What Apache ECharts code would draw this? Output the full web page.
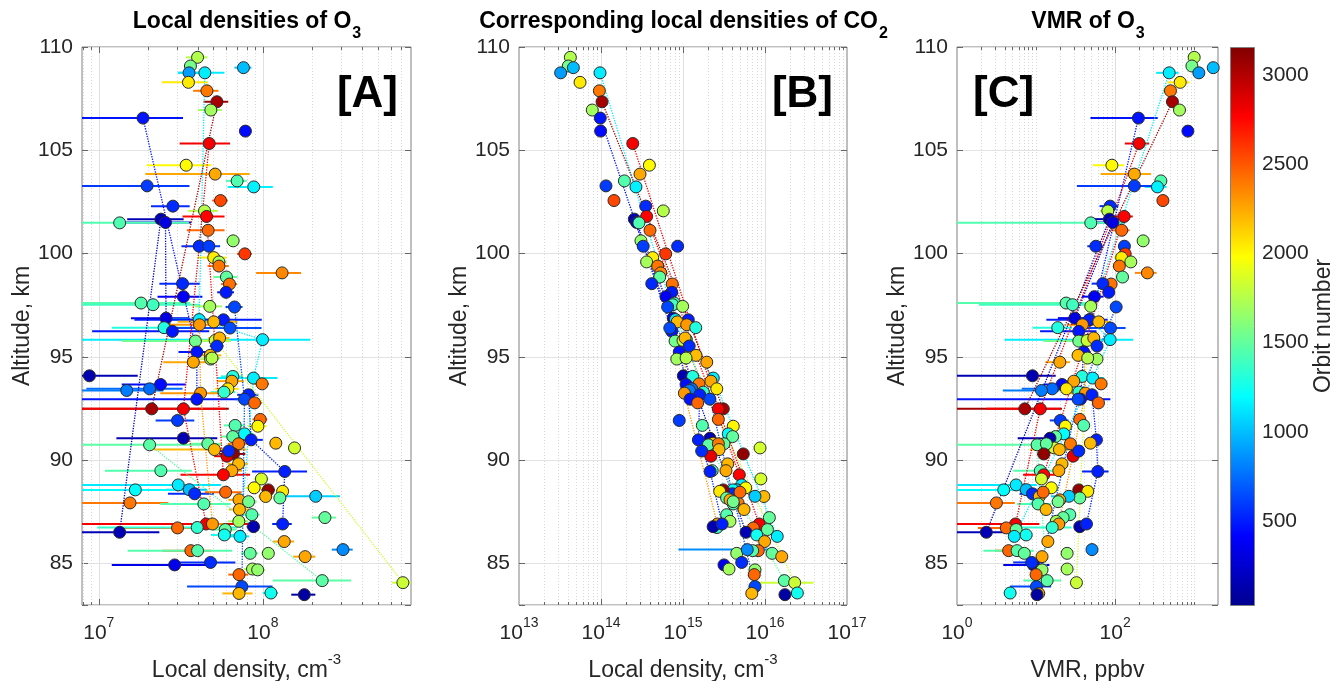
<!DOCTYPE html>
<html>
<head>
<meta charset="utf-8">
<title>Local densities of O3 and CO2, VMR of O3</title>
<script src="https://cdn.jsdelivr.net/npm/echarts@6/dist/echarts.min.js"></script>
<style>
  html, body { margin: 0; padding: 0; background: #fff; }
  #chart { width: 1340px; height: 681px; }
</style>
</head>
<body>
<div id="chart"></div>
<script>
// one entry per measurement: altitude (km), orbit number, O3 density + error, CO2 density, O3 VMR
const altitude = [
  109.5, 109.08, 108.75, 108.75, 109.0, 108.29, 107.88, 107.35, 106.95, 106.56,
  105.93, 105.33, 104.28, 103.85, 103.52, 103.23, 103.28, 102.57, 102.3, 102.07,
  101.8, 101.67, 101.51, 101.49, 101.13, 100.62, 100.36, 100.36, 99.99, 99.81,
  99.6, 99.4, 99.07, 98.87, 98.53, 98.55, 98.13, 97.92, 97.61, 97.53,
  97.45, 97.42, 96.88, 96.81, 96.8, 96.7, 96.56, 96.42, 96.24, 96.4,
  95.84, 95.77, 95.8, 95.92, 95.53, 95.24, 95.08, 94.9, 94.95, 94.75,
  94.09, 94.06, 93.98, 93.7, 93.83, 93.67, 93.46, 93.38, 93.46, 93.3,
  93.25, 93.17, 92.96, 92.96, 92.78, 92.49, 92.49, 91.93, 91.98, 91.65,
  91.69, 91.28, 91.15, 91.07, 90.99, 90.83, 90.6, 90.75, 90.8, 90.8,
  90.52, 90.31, 90.2, 90.45, 89.83, 89.5, 89.5, 89.46, 89.3, 89.1,
  88.81, 88.58, 88.57, 88.38, 88.67, 88.57, 88.5, 88.25, 88.18, 88.26,
  87.94, 87.89, 88.46, 88.09, 88.0, 87.62, 87.37, 87.23, 87.05, 86.92,
  86.92, 86.73, 86.75, 86.79, 86.92, 86.52, 86.65, 86.39, 86.32, 86.07,
  85.63, 85.63, 85.5, 85.5, 85.34, 85.68, 84.94, 85.06, 84.74, 84.7,
  84.47, 84.18, 84.08, 83.89, 83.58, 83.56, 83.5
];

const orbitNo = [
  1750, 1560, 900, 1150, 1000, 2050, 2400, 3040, 1700, 480,
  450, 2800, 2000, 2250, 1450, 1160, 600, 2550, 550, 1760,
  2760, 170, 320, 1440, 2450, 1650, 555, 610, 2600, 2040,
  1710, 2410, 2350, 1500, 2420, 545, 500, 400, 1455, 1400,
  1705, 640, 320, 1150, 505, 2200, 2300, 1300, 495, 650,
  1150, 1550, 1820, 2210, 551, 480, 2190, 1690, 1755, 2255,
  150, 1305, 1150, 2405, 2260, 455, 750, 800, 2055, 1350,
  2300, 520, 480, 640, 2455, 3040, 2800, 605, 2451, 2005,
  1451, 1200, 1501, 152, 520, 2201, 1850, 1480, 1502, 2401,
  2202, 3100, 2850, 552, 2203, 2251, 1452, 520, 2760, 1851,
  1140, 1001, 1201, 553, 2001, 3101, 2051, 2204, 1503, 1050,
  2402, 1453, 2452, 2252, 1551, 2205, 1454, 1504, 1701, 2800,
  2300, 2453, 1351, 151, 520, 170, 1505, 1250, 1150, 2253,
  2454, 1456, 1506, 1651, 2254, 850, 350, 554, 1702, 1652,
  2456, 1480, 1820, 640, 1251, 2206, 100
];

const o3Density = [
  4.0e7, 3.62e7, 3.55e7, 4.43e7, 7.62e7, 3.52e7, 4.56e7, 5.25e7, 4.82e7, 1.86e7,
  7.83e7, 4.71e7, 3.41e7, 5.12e7, 6.97e7, 8.8e7, 1.97e7, 5.52e7, 2.83e7, 4.41e7,
  4.54e7, 2.39e7, 2.55e7, 1.34e7, 4.64e7, 6.59e7, 4.09e7, 4.69e7, 7.77e7, 5.02e7,
  5.4e7, 5.4e7, 1.31e8, 6.0e7, 6.26e7, 3.24e7, 5.97e7, 3.28e7, 1.81e7, 2.14e7,
  4.75e7, 6.72e7, 2.57e7, 4.09e7, 5.75e7, 5.02e7, 4.11e7, 2.5e7, 2.81e7, 6.31e7,
  9.96e7, 3.88e7, 5.12e7, 5.45e7, 5.25e7, 3.96e7, 4.78e7, 4.8e7, 4.9e7, 3.77e7,
  8.77e6, 6.56e7, 8.77e7, 9.9e7, 6.47e7, 2.38e7, 2.04e7, 1.48e7, 6.12e7, 5.8e7,
  4.17e7, 8.18e7, 3.96e7, 7.73e7, 8.9e7, 2.1e7, 3.28e7, 3.02e7, 9.64e7, 9.33e7,
  6.78e7, 7.73e7, 6.56e7, 3.28e7, 8.49e7, 1.2e8, 1.56e8, 2.04e7, 4.62e7, 7.11e7,
  5.07e7, 6.62e7, 6.05e7, 6.2e7, 7.11e7, 6.47e7, 2.39e7, 1.36e8, 5.75e7, 9.8e7,
  3.05e7, 3.56e7, 1.67e7, 3.84e7, 8.85e7, 1.08e8, 1.32e8, 1.04e8, 1.27e8, 2.1e8,
  1.55e7, 4.37e7, 5.93e7, 7.16e7, 8.18e7, 7.2e7, 8.57e7, 2.39e8, 7.14e7, 4.51e7,
  4.93e7, 3.02e7, 3.98e7, 8.77e7, 1.32e8, 1.34e7, 5.9e7, 5.83e7, 7.26e7, 1.35e8,
  3.64e7, 4.0e7, 8.37e7, 1.08e8, 1.81e8, 3.08e8, 2.9e7, 4.8e7, 8.65e7, 9.3e7,
  7.16e7, 2.3e8, 7.14e8, 7.45e7, 1.12e8, 7.16e7, 1.79e8
];

const o3Error = [
  0.6e7, 0.3e7, 0.5e7, 1.4e7, 0.9e7, 1.1e7, 0.8e7, 0.9e7, 0.8e7, 1.4e7,
  0.5e7, 1.6e7, 1.45e7, 3.2e7, 1.0e7, 2.7e7, 1.6e7, 0.6e7, 0.75e7, 0.9e7,
  1.3e7, 0.9e7, 1.1e7, 2.2e7, 1.2e7, 0.6e7, 0.9e7, 0.8e7, 0.8e7, 1.0e7,
  0.6e7, 0.8e7, 4.0e7, 1.0e7, 0.7e7, 0.9e7, 0.7e7, 1.0e7, 1.8e7, 2.0e7,
  0.9e7, 0.8e7, 1.0e7, 1.5e7, 4.1e7, 2.0e7, 1.5e7, 1.3e7, 1.9e7, 3.5e7,
  9.5e7, 2.5e7, 1.2e7, 0.8e7, 0.5e7, 0.9e7, 0.8e7, 0.6e7, 0.6e7, 1.3e7,
  0.85e7, 1.0e7, 3.5e7, 1.0e7, 1.2e7, 1.0e7, 1.2e7, 1.0e7, 1.0e7, 1.0e7,
  1.8e7, 1.2e7, 5.5e7, 1.0e7, 1.0e7, 4.1e7, 2.6e7, 0.8e7, 1.0e7, 1.2e7,
  1.0e7, 1.0e7, 1.0e7, 2.0e7, 1.5e7, 1.0e7, 1.2e7, 3.5e7, 1.0e7, 1.0e7,
  2.9e7, 1.2e7, 1.0e7, 1.0e7, 1.0e7, 1.0e7, 1.3e7, 5.0e7, 2.6e7, 1.0e7,
  2.5e7, 1.0e7, 2.0e7, 1.2e7, 1.0e7, 1.0e7, 1.0e7, 1.0e7, 1.0e7, 8.5e7,
  1.1e7, 2.0e7, 1.5e7, 1.0e7, 1.0e7, 1.0e7, 1.0e7, 4.0e7, 1.0e7, 4.5e7,
  1.0e7, 1.7e7, 3.0e7, 0.8e7, 1.8e7, 1.0e7, 1.0e7, 1.0e7, 1.0e7, 2.0e7,
  1.2e7, 2.5e7, 1.0e7, 1.0e7, 2.8e7, 4.5e7, 1.7e7, 2.0e7, 1.0e7, 1.0e7,
  1.0e7, 1.15e8, 1.0e8, 4.0e7, 1.2e7, 1.5e7, 3.0e7
];

const co2Density = [
  4.23e13, 3.99e13, 3.22e13, 9.73e13, 4.6e13, 5.55e13, 9.55e13, 1.03e14, 7.83e13, 9.8e13,
  9.9e13, 2.44e14, 3.89e14, 2.99e14, 1.93e14, 2.67e14, 1.15e14, 1.44e14, 3.51e14, 5.75e14,
  3.6e14, 2.55e14, 2.72e14, 2.9e14, 3.96e14, 3.07e14, 8.6e14, 3.27e14, 6.15e14, 4.27e14,
  3.6e14, 4.91e14, 5.35e14, 5.2e14, 7.4e14, 4.16e14, 7.3e14, 6.2e14, 7.85e14, 7.5e14,
  9.9e14, 6.5e14, 7.6e14, 8.1e14, 1.16e15, 8.5e14, 1.11e15, 1.43e15, 7.3e14, 6.9e14,
  1.1e15, 8.0e14, 1.0e15, 1.06e15, 1.19e15, 9.0e14, 1.44e15, 8.4e14, 1.09e15, 1.95e15,
  1.01e15, 1.31e15, 2.34e15, 1.57e15, 2.19e15, 1.09e15, 1.28e15, 1.2e15, 2.58e15, 1.77e15,
  1.04e15, 1.6e15, 1.22e15, 2.13e15, 1.51e15, 3.1e15, 2.7e15, 9.0e14, 2.7e15, 4.1e15,
  1.72e15, 3.57e15, 4.03e15, 2.13e15, 1.54e15, 2.34e15, 8.7e15, 2.04e15, 3.16e15, 2.7e15,
  2.75e15, 5.43e15, 2.19e15, 1.69e15, 3.51e15, 3.34e15, 2.27e15, 2.14e15, 4.86e15, 8.9e15,
  5.2e15, 4.52e15, 4.07e15, 4.0e15, 5.82e15, 3.1e15, 2.8e15, 9.7e15, 3.4e15, 7.55e15,
  4.7e15, 4.1e15, 4.95e15, 3.74e15, 4.1e15, 5.55e15, 3.41e15, 1.13e16, 3.74e15, 8.5e15,
  2.62e15, 7.2e15, 2.6e15, 2.33e15, 3.0e15, 5.87e15, 1.07e16, 7.92e15, 1.41e16, 9.9e15,
  8.28e15, 7.08e15, 1.22e16, 4.52e15, 1.6e16, 6.08e15, 3.16e15, 5.2e15, 3.64e15, 7.55e15,
  7.4e15, 1.72e16, 2.3e16, 7.55e15, 2.48e16, 6.9e15, 1.75e16
];

// only three CO2 points carry a visible error bar
const co2ErrorIdx = [135, 142, 143];
const co2ErrorVal = [5.2e15, 1.6e16, 1.2e15];

const vmrO3 = [
  1000, 935, 1145, 483, 1740, 665, 501, 531, 652, 197,
  832, 201, 91, 175, 379, 343, 175, 402, 86.5, 80.8,
  130, 84.7, 93.5, 49.2, 121, 226, 57, 131, 134, 121,
  158, 113, 256, 124, 89, 70, 83, 54.7, 24, 29,
  49.2, 103, 30.9, 47.8, 47, 62, 38.6, 18.8, 34.7, 87.3,
  86.4, 34.7, 44.2, 53.7, 59, 40, 34, 59, 45, 20,
  9.0, 38.2, 52, 66.5, 30, 21.3, 16, 11.7, 24.2, 34.7,
  42.1, 51, 36.4, 34, 61.5, 7.2, 11.3, 20.3, 35.7, 23.5,
  40, 22.4, 17.6, 15, 58, 48.7, 17, 10.3, 13.5, 27.2,
  19.7, 12.5, 29.4, 34.7, 21.3, 19.4, 11.3, 60.4, 12.5, 11.7,
  5.6, 7.5, 3.9, 9, 15.6, 34.7, 45, 11, 35.7, 26,
  3.15, 10.6, 12.3, 20, 19, 13.4, 26.7, 22, 18, 5.5,
  19.4, 4.2, 16, 35.7, 43.4, 2.35, 5.6, 7.5, 5.3, 14.1,
  4.5, 5.75, 7.1, 24.7, 11.9, 51, 9.3, 8.8, 24.7, 11.9,
  10, 13.8, 32.4, 10.1, 4.7, 10.8, 10.3
];

const ORBIT_MIN = 30;
const ORBIT_MAX = 3157;
const JET = ['#00008f', '#0000ff', '#0080ff', '#00ffff', '#80ff80', '#ffff00', '#ff8000', '#ff0000', '#800000'];
const FONT = '"Liberation Sans", Arial, sans-serif';
const TXT = '#262626';
const ALT_MIN = 83, ALT_MAX = 110;
const TOP = 47, HEIGHT = 558;

function hexRgb(h) {
  return [parseInt(h.slice(1, 3), 16), parseInt(h.slice(3, 5), 16), parseInt(h.slice(5, 7), 16)];
}
function jetColor(v) {
  let t = (v - ORBIT_MIN) / (ORBIT_MAX - ORBIT_MIN);
  t = Math.max(0, Math.min(1, t)) * (JET.length - 1);
  const i = Math.min(Math.floor(t), JET.length - 2);
  const f = t - i;
  const a = hexRgb(JET[i]), b = hexRgb(JET[i + 1]);
  return 'rgb(' + a.map((c, k) => Math.round(c + (b[k] - c) * f)).join(',') + ')';
}

const measureCtx = document.createElement('canvas').getContext('2d');
function textWidth(str, font) {
  measureCtx.font = font;
  return measureCtx.measureText(str).width;
}

const panels = [
  {
    left: 82, width: 329, xMin: 7.9e6, xMax: 8e8, majorEvery: 1,
    values: o3Density,
    errs: o3Error,
    title: 'Local densities of O', titleSub: '3', titleX: 246.5,
    xName: '{n|Local density, cm}{p|-3}',
    tag: '[A]', tagX: 398, tagAlign: 'right'
  },
  {
    left: 519, width: 328, xMin: 1e13, xMax: 1e17, majorEvery: 1,
    values: co2Density,
    errs: co2Density.map((v, i) => {
      const k = co2ErrorIdx.indexOf(i);
      return k >= 0 ? co2ErrorVal[k] : 0;
    }),
    title: 'Corresponding local densities of CO', titleSub: '2', titleX: 683,
    xName: '{n|Local density, cm}{p|-3}',
    tag: '[B]', tagX: 833, tagAlign: 'right'
  },
  {
    left: 957, width: 261, xMin: 1, xMax: 2000, majorEvery: 2,
    values: vmrO3,
    // VMR uncertainty follows the relative O3 uncertainty
    errs: vmrO3.map((v, i) => v * o3Error[i] / o3Density[i]),
    title: 'VMR of O', titleSub: '3', titleX: 1087.5,
    xName: '{n|VMR, ppbv}',
    tag: '[C]', tagX: 973, tagAlign: 'left'
  }
];

// log grid lines (major + minor) and box ticks, MATLAB style
function logGridValues(min, max, majorEvery) {
  const out = [];
  const k0 = Math.floor(Math.log10(min)), k1 = Math.ceil(Math.log10(max));
  for (let k = k0; k <= k1; k++) {
    for (let m = 1; m <= 9; m++) {
      const v = m * Math.pow(10, k);
      if (v <= min * 1.0001 || v >= max * 0.9999) continue;
      out.push([v, 96, (m === 1 && k % majorEvery === 0) ? 1 : 0]);
    }
  }
  return out;
}

function gridRender(params, api) {
  const cs = params.coordSys;
  const x = Math.round(api.coord([api.value(0), 96])[0]) + 0.5;
  const major = api.value(2) === 1;
  const tl = major ? 6 : 3;
  const y0 = cs.y, y1 = cs.y + cs.height;
  return {
    type: 'group',
    children: [
      { type: 'line', shape: { x1: x, y1: y0, x2: x, y2: y1 },
        style: { stroke: major ? '#e0e0e0' : '#d9d9d9', lineWidth: 1, lineDash: major ? null : [1, 2] } },
      { type: 'line', shape: { x1: x, y1: y1, x2: x, y2: y1 - tl }, style: { stroke: '#666', lineWidth: 1 } },
      { type: 'line', shape: { x1: x, y1: y0, x2: x, y2: y0 + tl }, style: { stroke: '#666', lineWidth: 1 } }
    ]
  };
}

function barRender(params, api) {
  const a = api.coord([api.value(0), api.value(1)]);
  const b = api.coord([api.value(3), api.value(1)]);
  return {
    type: 'line',
    shape: { x1: a[0], y1: a[1], x2: b[0], y2: b[1] },
    style: { stroke: api.visual('color'), lineWidth: 2 }
  };
}

const tickRich = {
  b: { fontSize: 21, fontFamily: FONT, color: TXT, lineHeight: 28, verticalAlign: 'bottom' },
  s: { fontSize: 14, fontFamily: FONT, color: TXT, lineHeight: 12, verticalAlign: 'top' }
};
const nameRich = {
  n: { fontSize: 23, fontFamily: FONT, color: TXT, lineHeight: 30, verticalAlign: 'bottom' },
  p: { fontSize: 15, fontFamily: FONT, color: TXT, lineHeight: 14, verticalAlign: 'top' }
};

const grids = [], xAxes = [], yAxes = [], series = [], mapped = [], graphics = [];

panels.forEach((pn, p) => {
  grids.push({ left: pn.left, top: TOP, width: pn.width, height: HEIGHT, show: true,
    outerBoundsMode: 'none', containLabel: false,
    borderColor: '#808080', borderWidth: 1, backgroundColor: 'transparent' });

  xAxes.push({
    type: 'log', logBase: 10, gridIndex: p, min: pn.xMin, max: pn.xMax,
    axisLine: { show: false }, axisTick: { show: false }, splitLine: { show: false },
    axisLabel: {
      margin: 11, hideOverlap: false,
      formatter: v => {
        const e = Math.log10(v), r = Math.round(e);
        if (Math.abs(e - r) > 1e-6 || r % pn.majorEvery !== 0) return '';
        return '{b|10}{s|' + r + '}';
      },
      rich: tickRich
    },
    name: pn.xName, nameLocation: 'middle', nameGap: 47,
    nameTextStyle: { rich: nameRich }
  });

  yAxes.push({
    type: 'value', gridIndex: p, min: ALT_MIN, max: ALT_MAX, splitNumber: 5,
    axisLine: { show: false },
    axisTick: { inside: true, length: 6, lineStyle: { color: '#666' } },
    splitLine: { lineStyle: { color: '#e3e3e3' } },
    axisLabel: { fontSize: 21, fontFamily: FONT, color: TXT, margin: 9,
      formatter: v => (v % 5 === 0 ? String(v) : '') },
    name: 'Altitude, km', nameLocation: 'middle', nameGap: 48, nameRotate: 90,
    nameTextStyle: { fontSize: 23, fontFamily: FONT, color: TXT }
  });

  series.push({
    type: 'custom', xAxisIndex: p, yAxisIndex: p, silent: true, z: 1,
    data: logGridValues(pn.xMin, pn.xMax, pn.majorEvery), renderItem: gridRender
  });

  const barData = [];
  pn.errs.forEach((e, i) => {
    if (!e) return;
    const x = pn.values[i];
    barData.push([Math.max(x - e, pn.xMin), altitude[i], orbitNo[i], Math.min(x + e, pn.xMax)]);
  });
  series.push({
    type: 'custom', xAxisIndex: p, yAxisIndex: p, silent: true, z: 2,
    data: barData, encode: { x: [0, 3], y: 1 }, renderItem: barRender
  });
  mapped.push(series.length - 1);

  // dotted lines join the points of one orbit
  const groups = {};
  orbitNo.forEach((o, i) => { (groups[o] = groups[o] || []).push(i); });
  Object.keys(groups).forEach(o => {
    if (groups[o].length < 2) return;
    const idx = groups[o].slice().sort((a, b) => altitude[b] - altitude[a]);
    series.push({
      type: 'line', xAxisIndex: p, yAxisIndex: p, silent: true, z: 3,
      symbol: 'none', data: idx.map(i => [pn.values[i], altitude[i]]),
      lineStyle: { type: 'dotted', width: 1.3, color: jetColor(Number(o)) }
    });
  });

  series.push({
    type: 'scatter', xAxisIndex: p, yAxisIndex: p, z: 4,
    symbol: 'circle', symbolSize: 12,
    itemStyle: { borderColor: '#2a2a2a', borderWidth: 1, opacity: 1 },
    data: altitude.map((a, i) => [pn.values[i], a, orbitNo[i]])
  });
  mapped.push(series.length - 1);

  // title with a real subscript: main text and lowered digit placed side by side
  const mainFont = 'bold 23px "Liberation Sans"';
  const subFont = 'bold 16px "Liberation Sans"';
  const mw = textWidth(pn.title, mainFont);
  const sw = textWidth(pn.titleSub, subFont);
  const x0 = pn.titleX - (mw + sw) / 2;
  graphics.push({
    type: 'text', x: x0, y: 22, silent: true,
    style: { text: pn.title, align: 'left', verticalAlign: 'middle',
      fontSize: 23, fontWeight: 'bold', fontFamily: FONT, fill: '#000' }
  });
  graphics.push({
    type: 'text', x: x0 + mw + 1, y: 34, silent: true,
    style: { text: pn.titleSub, align: 'left', verticalAlign: 'middle',
      fontSize: 16, fontWeight: 'bold', fontFamily: FONT, fill: '#000' }
  });
  graphics.push({
    type: 'text', x: pn.tagX, y: 73, silent: true, z: 10,
    style: { text: pn.tag, align: pn.tagAlign, verticalAlign: 'top',
      fontSize: 44, fontWeight: 'bold', fontFamily: FONT, fill: '#000' }
  });
});

// right-hand tick marks of each panel box
panels.forEach((pn, p) => {
  yAxes.push({
    type: 'value', gridIndex: p, min: ALT_MIN, max: ALT_MAX, splitNumber: 5, position: 'right',
    axisLine: { show: false }, axisLabel: { show: false }, splitLine: { show: false },
    axisTick: { inside: true, length: 6, lineStyle: { color: '#666' } }
  });
});

// colour bar
grids.push({ left: 1230, top: TOP, width: 24, height: HEIGHT, show: false,
  outerBoundsMode: 'none', containLabel: false });
xAxes.push({ type: 'value', gridIndex: 3, show: false, min: 0, max: 1 });
yAxes.push({
  type: 'value', gridIndex: 3, min: ORBIT_MIN, max: ORBIT_MAX, position: 'right', splitNumber: 6,
  axisLine: { show: false }, axisTick: { show: false }, splitLine: { show: false },
  axisLabel: { fontSize: 21, fontFamily: FONT, color: TXT, margin: 8,
    formatter: v => (v % 500 === 0 ? String(v) : '') },
  name: 'Orbit number', nameLocation: 'middle', nameGap: 53, nameRotate: 90,
  nameTextStyle: { fontSize: 23, fontFamily: FONT, color: TXT }
});
graphics.push({
  type: 'rect', silent: true, z: 5,
  shape: { x: 1230.5, y: TOP + 0.5, width: 24, height: HEIGHT },
  style: {
    stroke: '#808080', lineWidth: 1,
    fill: {
      type: 'linear', x: 0, y: 0, x2: 0, y2: 1,
      colorStops: JET.slice().reverse().map((c, i) => ({ offset: i / (JET.length - 1), color: c }))
    }
  }
});

const chart = echarts.init(document.getElementById('chart'));
chart.setOption({
  animation: false,
  backgroundColor: '#fff',
  grid: grids,
  xAxis: xAxes,
  yAxis: yAxes,
  visualMap: {
    type: 'continuous', show: false, min: ORBIT_MIN, max: ORBIT_MAX,
    dimension: 2, seriesIndex: mapped, inRange: { color: JET }
  },
  graphic: graphics,
  series: series
});
</script>
</body>
</html>
